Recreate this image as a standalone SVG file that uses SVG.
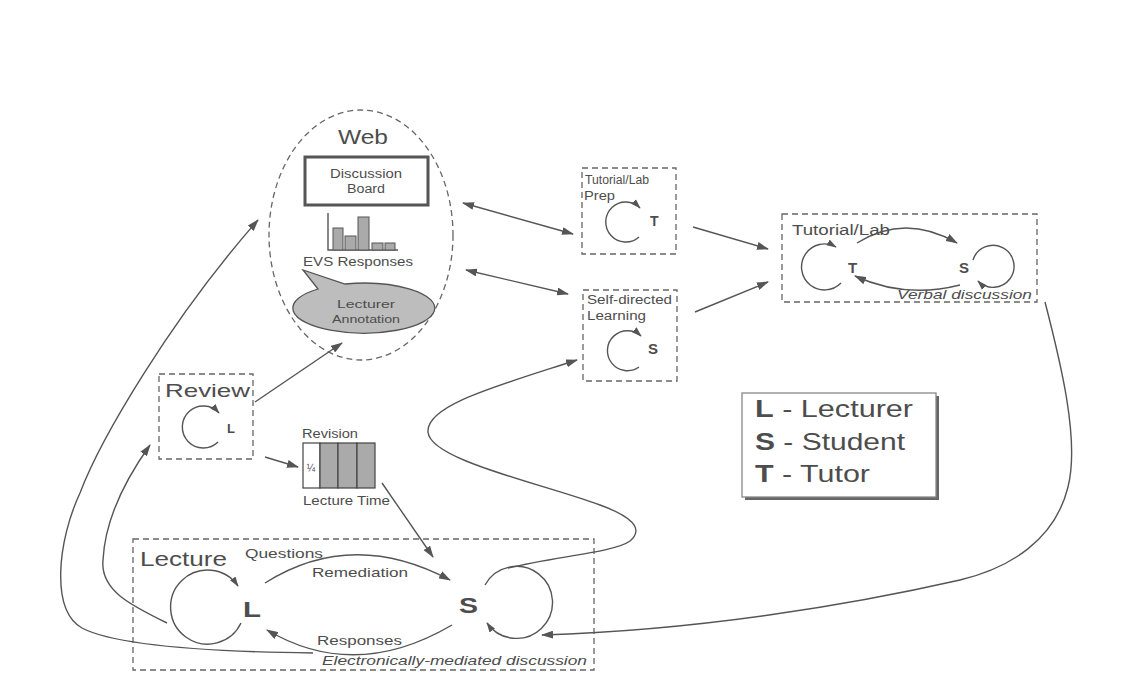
<svg xmlns="http://www.w3.org/2000/svg" width="1125" height="687" viewBox="0 0 1125 687">
<defs>
<marker id="ah" viewBox="0 0 12 8" refX="11" refY="4" markerWidth="12" markerHeight="8" markerUnits="userSpaceOnUse" orient="auto-start-reverse">
<path d="M0,0 L12,4 L0,8 Z" fill="#555"/>
</marker>
<marker id="ahs" viewBox="0 0 12 8" refX="11" refY="4" markerWidth="10" markerHeight="7" markerUnits="userSpaceOnUse" orient="auto-start-reverse">
<path d="M0,0 L12,4 L0,8 Z" fill="#555"/>
</marker>
</defs>
<style>
text{font-family:"Liberation Sans",Arial,sans-serif;fill:#4d4d4d}
.box{fill:none;stroke:#666;stroke-width:1.3;stroke-dasharray:6,4}
.ln{fill:none;stroke:#555;stroke-width:1.4}
.arr{fill:none;stroke:#555;stroke-width:1.4;marker-end:url(#ah)}
.loop{fill:none;stroke:#555;stroke-width:1.4;marker-end:url(#ahs)}
.dbl{fill:none;stroke:#555;stroke-width:1.4;marker-start:url(#ah);marker-end:url(#ah)}
.b{font-weight:bold}
.it{font-style:italic}
.bar{fill:#aaa;stroke:#555;stroke-width:1}
</style>
<rect width="1125" height="687" fill="#fff"/>

<g id="web">
<ellipse class="box" cx="361" cy="235" rx="92" ry="125"/>
<text x="363" y="144" font-size="20" text-anchor="middle" textLength="50" lengthAdjust="spacingAndGlyphs">Web</text>
<rect x="305" y="157" width="123" height="48" fill="#fff" stroke="#555" stroke-width="3"/>
<text x="366" y="178" font-size="12.5" text-anchor="middle" textLength="72" lengthAdjust="spacingAndGlyphs">Discussion</text>
<text x="366" y="193" font-size="12.5" text-anchor="middle" textLength="38" lengthAdjust="spacingAndGlyphs">Board</text>
<path class="ln" d="M328,213 L328,250 L398,250" stroke-width="1.2"/>
<rect class="bar" x="333" y="228" width="10" height="22"/>
<rect class="bar" x="345" y="236" width="11" height="14"/>
<rect class="bar" x="358" y="217" width="11" height="33"/>
<rect class="bar" x="372" y="243" width="11" height="7"/>
<rect class="bar" x="385" y="243" width="10" height="7"/>
<text x="358" y="266" font-size="13" text-anchor="middle" textLength="110" lengthAdjust="spacingAndGlyphs">EVS Responses</text>
<path d="M318,289 L303,270 L345,284 A71,25 0 1,1 318,289 Z" fill="#bdbdbd" stroke="#555" stroke-width="1.3"/>
<text x="366" y="308" font-size="11.5" text-anchor="middle" textLength="58" lengthAdjust="spacingAndGlyphs">Lecturer</text>
<text x="366" y="323" font-size="11.5" text-anchor="middle" textLength="68" lengthAdjust="spacingAndGlyphs">Annotation</text>
</g>

<g id="tutorial-prep">
<rect class="box" x="582" y="168" width="94" height="86"/>
<text x="585" y="184" font-size="12.5" textLength="64" lengthAdjust="spacingAndGlyphs">Tutorial/Lab</text>
<text x="584" y="200" font-size="12.5" textLength="31" lengthAdjust="spacingAndGlyphs">Prep</text>
<path class="loop" d="M639,237 A20,20 0 1,1 640,208"/>
<text x="650" y="226" font-size="14" class="b">T</text>
</g>

<g id="self-directed">
<rect class="box" x="583" y="290" width="94" height="91"/>
<text x="587" y="304" font-size="12.5" textLength="85" lengthAdjust="spacingAndGlyphs">Self-directed</text>
<text x="587" y="320" font-size="12.5" textLength="59" lengthAdjust="spacingAndGlyphs">Learning</text>
<path class="loop" d="M639,367 A20,20 0 1,1 641,336"/>
<text x="648" y="354" font-size="15" class="b">S</text>
</g>

<g id="tutorial-lab">
<rect class="box" x="782" y="214" width="255" height="88"/>
<text x="792" y="235" font-size="14" textLength="98" lengthAdjust="spacingAndGlyphs">Tutorial/Lab</text>
<path class="loop" d="M841,283 A23,23 0 1,1 836,247"/>
<path class="loop" d="M973,260 A21,21 0 1,1 978,281"/>
<path class="arr" d="M857,243 Q905,213 957,243"/>
<path class="arr" d="M960,285 Q905,299 855,276"/>
<text x="848" y="273" font-size="15" class="b">T</text>
<text x="959" y="273" font-size="15" class="b">S</text>
<text x="897" y="299" font-size="13" class="it" textLength="135" lengthAdjust="spacingAndGlyphs">Verbal discussion</text>
</g>

<g id="review">
<rect class="box" x="159" y="374" width="94" height="85"/>
<text x="165" y="397" font-size="18.5" textLength="85" lengthAdjust="spacingAndGlyphs">Review</text>
<path class="loop" d="M218,442 A21,21 0 1,1 219,413"/>
<text x="227" y="433" font-size="13" class="b">L</text>
</g>

<g id="revision">
<text x="302" y="438" font-size="12" textLength="56" lengthAdjust="spacingAndGlyphs">Revision</text>
<rect x="303" y="443" width="17" height="45" fill="#fff" stroke="#444" stroke-width="1.2"/>
<rect x="320" y="443" width="18" height="45" fill="#aaa" stroke="#444" stroke-width="1.2"/>
<rect x="338" y="443" width="19" height="45" fill="#aaa" stroke="#444" stroke-width="1.2"/>
<rect x="357" y="443" width="18" height="45" fill="#aaa" stroke="#444" stroke-width="1.2"/>
<text x="311" y="472" font-size="10" text-anchor="middle">¼</text>
<text x="303" y="505" font-size="12" textLength="87" lengthAdjust="spacingAndGlyphs">Lecture Time</text>
</g>

<g id="lecture">
<rect class="box" x="133" y="539" width="461" height="131"/>
<text x="140" y="566" font-size="21" textLength="87" lengthAdjust="spacingAndGlyphs">Lecture</text>
<text x="245" y="558" font-size="13" textLength="78" lengthAdjust="spacingAndGlyphs">Questions</text>
<text x="312" y="577" font-size="13" textLength="96" lengthAdjust="spacingAndGlyphs">Remediation</text>
<path class="loop" d="M241,623 A37,37 0 1,1 238,586"/>
<path class="loop" d="M485,585 A36,36 0 1,1 487,623"/>
<path class="arr" d="M265,583 Q352,528 450,580"/>
<path class="arr" d="M452,625 Q355,682 267,630"/>
<text x="243" y="617" font-size="22" class="b" textLength="18" lengthAdjust="spacingAndGlyphs">L</text>
<text x="459" y="613" font-size="22" class="b" textLength="19" lengthAdjust="spacingAndGlyphs">S</text>
<text x="317" y="645" font-size="13" textLength="85" lengthAdjust="spacingAndGlyphs">Responses</text>
<text x="322" y="665" font-size="13" class="it" textLength="265" lengthAdjust="spacingAndGlyphs">Electronically-mediated discussion</text>
</g>

<g id="legend">
<rect x="745" y="396" width="194" height="104" fill="#666"/>
<rect x="742" y="393" width="194" height="104" fill="#fff" stroke="#888" stroke-width="1.3"/>
<text x="755" y="417" font-size="24" textLength="158" lengthAdjust="spacingAndGlyphs"><tspan class="b">L</tspan> - Lecturer</text>
<text x="755" y="450" font-size="24" textLength="150" lengthAdjust="spacingAndGlyphs"><tspan class="b">S</tspan> - Student</text>
<text x="755" y="482" font-size="24" textLength="115" lengthAdjust="spacingAndGlyphs"><tspan class="b">T</tspan> - Tutor</text>
</g>

<g id="connectors">
<path class="dbl" d="M463,203 L573,234"/>
<path class="dbl" d="M466,270 L568,294"/>
<path class="arr" d="M693,227 L768,249"/>
<path class="arr" d="M695,312 L768,282"/>
<path class="arr" d="M255,402 L342,343"/>
<path class="arr" d="M265,457 L298,467"/>
<path class="arr" d="M382,483 L433,557"/>
<path class="arr" d="M313,653 C230,652 120,648 82,628 C50,610 58,540 80,493 C100,440 170,320 258,220"/>
<path class="arr" d="M167,623 C130,605 100,590 103,560 C105,520 125,480 150,445"/>
<path class="arr" d="M508,568 C560,556 615,552 630,541 C645,528 630,516 600,505 C540,483 430,460 428,432 C426,405 500,385 577,360"/>
<path class="arr" d="M1045,302 C1060,360 1080,440 1068,487 C1055,540 1010,568 960,580 C850,605 700,630 542,635"/>
</g>
</svg>
